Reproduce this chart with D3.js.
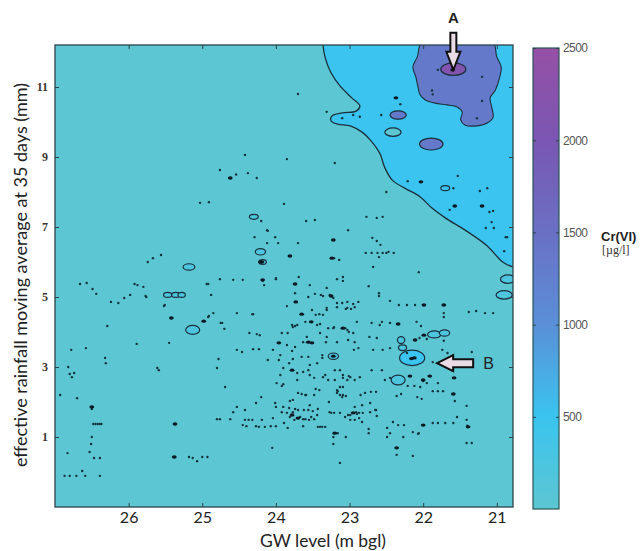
<!DOCTYPE html>
<head>
  <meta charset="utf-8">
  <script src="https://d3js.org/d3.v7.min.js"></script>
  <style>
    body { margin:0; background:#fff; }
  </style>
</head>
<body>
<script>
// ---- tick values ----
var gwTicks = [26, 25, 24, 23, 22, 21];
var rainTicks = [1, 3, 5, 7, 9, 11];
var crTicks = [500, 1000, 1500, 2000, 2500];

// colour bar of Cr(VI) [ug/l]
var cmapValues = [0, 500, 1000, 1500, 2000, 2500];
var cmapColors = ["#5cc6d2", "#3ac4ef", "#5a8fd8", "#6a70c4", "#7a56b2", "#9650a6"];
// value used to fill each contour band (last one: small rings inside the teal band)
var bandValues = [0, 500, 1350, 2150, 220];

// contour line between the teal and cyan bands [gw level, rainfall]
var contour500 = [[23.36,12.40],[23.36,12.20],[23.33,11.83],[23.25,11.40],[23.13,11.03],[22.97,10.69],
  [22.86,10.46],[22.91,10.31],[23.10,10.26],[23.24,10.17],[23.25,10.03],[23.16,9.94],[22.99,9.89],
  [22.83,9.71],[22.72,9.49],[22.59,9.11],[22.52,8.69],[22.42,8.34],[22.25,8.11],[22.04,7.86],
  [21.88,7.54],[21.70,7.26],[21.43,6.91],[21.13,6.46],[20.92,6.00],[20.78,5.86],[20.65,5.83]];

// blob around point A
var contourA = [[22.00,12.35],[22.08,11.86],[22.14,11.57],[22.10,11.29],[22.07,11.00],[22.04,10.77],
  [21.97,10.63],[21.84,10.54],[21.68,10.49],[21.54,10.43],[21.47,10.29],[21.49,10.06],[21.43,9.91],
  [21.27,9.89],[21.13,9.97],[21.05,10.14],[21.07,10.43],[21.09,10.69],[21.02,10.91],[20.96,11.29],
  [20.94,11.57],[21.00,11.86],[21.07,12.35]];

// small closed contours: [gw, rain, half width (m), half height (mm), band]
var rings = [
  [21.59,11.51,0.17,0.18,3],[22.34,10.20,0.11,0.12,2],[22.41,9.71,0.11,0.12,0],[21.89,9.37,0.16,0.17,2],
  [21.70,8.11,0.06,0.07,1],[24.30,7.29,0.06,0.07,4],[24.21,6.29,0.07,0.09,4],[25.18,5.86,0.08,0.09,4],
  [25.47,5.06,0.055,0.07,4],[25.36,5.06,0.055,0.07,4],[25.28,5.06,0.05,0.07,4],[25.13,4.06,0.095,0.13,4],
  [22.15,3.26,0.17,0.22,1],[22.34,2.63,0.095,0.14,4],[21.85,3.93,0.09,0.10,4],[21.71,3.97,0.07,0.09,4],
  [22.30,3.77,0.05,0.10,4],[22.28,3.55,0.055,0.08,4],[23.22,3.31,0.07,0.09,4],[20.85,5.51,0.10,0.12,4],
  [20.90,5.06,0.11,0.12,4],[24.18,6.00,0.05,0.07,4]];

// sample points
var smallDots = [
  [23.70,10.80],[24.42,9.06],[23.85,8.94],[24.76,8.63],[24.62,8.40],[24.54,8.50],[24.38,8.54],[24.26,8.40],
  [25.03,7.69],[24.91,7.71],[23.89,7.66],[24.20,7.17],[23.59,7.17],[23.47,7.20],[24.12,6.91],[24.29,6.71],
  [24.01,6.71],[24.12,6.54],[23.97,6.54],[23.70,6.54],[25.74,6.00],[25.67,6.11],[25.56,6.20],[24.11,6.89],
  [23.20,8.83],[23.31,10.29],[23.10,10.11],[22.95,10.20],[22.86,10.15],[22.57,10.20],[22.31,10.51],
  [23.02,6.91],[23.14,6.06],[23.17,5.51],[23.21,6.11],
  [22.50,8.00],[22.77,7.29],[22.63,7.26],[22.55,7.29],[22.69,6.69],[22.63,6.60],[22.58,6.49],[22.78,6.26],
  [22.70,6.26],[22.62,6.26],[22.55,6.26],[22.50,6.26],[22.47,6.29],[22.40,6.26],[22.60,6.14],[22.68,5.86],
  [22.06,5.71],
  [22.21,8.31],[21.59,8.11],[21.53,8.46],[21.23,8.03],[21.13,8.11],[21.64,7.49],[21.10,7.43],[21.05,7.46],
  [21.07,7.14],[21.15,6.97],[21.04,6.97],[20.88,6.71],[20.86,6.71],[20.90,6.31],[21.80,11.49],[21.20,11.29],
  [21.88,10.90],[21.87,10.79],[21.20,10.60],[21.27,10.11],
  [26.66,5.37],[26.57,5.40],[26.49,5.23],[26.44,5.09],[26.24,4.86],[26.14,4.83],[26.06,4.97],[25.98,5.06],
  [25.92,5.37],[25.88,5.34],[25.80,5.29],[25.77,5.03],[25.51,4.77],[26.29,4.17],[25.45,3.69],[24.94,5.37],
  [24.76,5.51],[24.58,5.49],[24.45,5.49],[24.00,5.51],[24.91,4.46],[24.85,4.54],[24.75,4.26],[24.78,3.23],
  [24.80,2.97],[24.69,2.43],[24.53,4.54],[24.53,3.49],[24.46,3.43],[24.32,4.51],[24.36,3.97],[24.26,3.94],
  [24.31,3.51],[24.23,3.51],[24.11,3.20],[24.20,2.14],[24.53,1.86],[24.58,1.71],[24.42,1.77],[24.80,1.51],
  [24.76,1.51],[24.62,1.51],[24.45,1.34],[24.40,1.31],[24.27,1.31],[24.23,1.29],[24.15,1.29],[24.07,1.31],
  [24.00,1.31],[24.05,0.69],[25.18,0.43],[25.13,0.40],[25.07,0.31],[25.00,0.43],[24.93,0.43],[25.61,2.97],
  [25.59,2.91],[26.93,2.20],[26.82,3.00],[26.80,2.80],[26.77,2.71],[26.74,2.83],[26.78,3.49],[26.70,2.11],
  [26.48,1.37],[26.45,1.37],[26.42,1.37],[26.39,1.37],[26.37,1.37],[26.50,1.00],[26.51,0.80],[26.53,0.57],
  [26.47,0.40],[26.39,0.40],[26.83,0.54],[26.87,-0.11],[26.80,-0.11],[26.71,-0.11],[26.63,0.03],[26.59,-0.11],
  [26.39,-0.11],[26.32,3.26],[26.31,3.11],[25.89,3.66],[24.70,4.09],[26.58,3.54],[24.92,5.37],[24.88,5.06],
  [24.16,5.34],[25.76,5.00],[25.52,4.74],[24.92,4.43],[24.73,4.26],[24.31,4.51],[24.22,3.91],[26.50,1.80],
  [24.00,5.54],[23.69,5.57],[23.54,5.34],[23.31,5.26],[23.47,5.09],[23.39,5.06],[23.22,4.97],[23.74,5.11],
  [23.56,5.00],[23.85,4.74],[23.51,4.63],[23.46,4.49],[23.41,4.51],[23.77,4.14],[23.71,4.20],[23.60,4.29],
  [23.40,4.23],[24.18,5.46],[23.27,5.06],[23.09,5.46],[23.36,5.03],[23.17,4.83],[23.10,4.83],[23.03,4.86],
  [22.95,4.80],[22.88,4.86],[23.31,4.63],[23.17,4.71],[23.03,4.69],[22.98,4.66],[22.93,4.71],[23.44,4.20],
  [23.74,4.17],[23.78,4.20],[23.29,4.11],[23.21,4.14],[23.03,4.06],[22.95,3.97],[23.92,3.97],[23.84,3.97],
  [23.58,3.86],[23.40,3.97],[23.85,3.63],[23.78,3.46],[23.74,3.57],[23.63,3.71],[23.17,3.71],[23.32,3.71],
  [23.02,3.77],[22.93,3.71],[24.04,3.49],[23.94,3.34],[22.94,3.49],[23.96,3.20],[23.82,3.11],[23.77,3.23],
  [23.65,3.29],[23.56,3.29],[23.54,3.06],[23.44,3.11],[23.37,3.34],[23.90,2.97],[23.71,2.83],[23.63,2.86],
  [23.56,2.91],[23.94,2.77],[23.71,2.63],[23.54,2.77],[23.48,2.69],[23.33,2.77],[23.29,2.63],[23.20,2.63],
  [23.09,2.77],[22.99,2.71],[23.03,2.63],[23.13,2.43],[23.09,2.43],[23.41,2.34],[23.17,2.26],[23.99,2.54],
  [23.90,2.51],[24.27,1.97],[23.77,2.06],[23.60,2.20],[23.48,2.20],[23.28,2.00],[24.01,1.97],[23.90,1.86],
  [23.82,1.83],[23.85,1.69],[23.77,1.71],[23.70,1.77],[23.56,1.77],[24.42,1.49],[24.32,1.49],[24.19,1.49],
  [24.04,1.54],[23.81,1.57],[23.75,1.49],[23.67,1.57],[23.60,1.51],[23.52,1.57],[23.44,1.63],[23.40,1.29],
  [23.33,1.29],[23.27,1.71],[23.21,1.69],[23.13,1.69],[23.06,1.57],[22.99,1.63],[22.91,1.71],[24.37,1.49],
  [23.92,2.46],[24.00,1.86],[23.81,2.03],[23.92,1.71],[23.89,1.40],[23.84,1.26],[23.70,2.26],[23.65,2.23],
  [23.74,1.80],[23.62,1.77],[23.50,1.74],[23.43,1.80],[23.63,1.51],[23.55,1.49],[23.48,1.51],[23.59,2.20],
  [23.54,1.91],[23.46,2.37],[23.43,1.29],[23.37,1.29],[23.63,1.31],[23.25,1.69],[23.22,1.00],[23.22,0.80],
  [23.16,1.11],[23.05,1.00],[23.13,2.20],[23.10,2.14],[23.05,2.17],[23.16,2.31],[23.02,1.63],[22.87,1.69],
  [22.99,1.49],[22.93,1.49],[22.83,1.43],[22.93,1.86],[22.83,1.91],[22.72,1.71],[22.64,1.77],[22.63,1.60],
  [22.74,1.23],[22.49,1.26],[22.45,1.11],[22.49,1.00],[22.41,1.43],[22.34,1.34],[22.26,1.34],[22.27,1.00],
  [22.36,0.49],[22.14,0.46],[22.07,1.09],[21.87,1.40],[21.80,1.40],[21.70,1.40],[21.59,1.40],[22.36,2.17],
  [22.21,2.46],[22.12,2.46],[22.00,2.60],[22.02,2.09],[21.87,2.31],[21.80,2.31],[21.73,2.31],[23.13,0.26],
  [23.09,5.57],[22.74,5.31],[22.60,5.11],[22.60,5.03],[22.45,4.89],[22.33,4.77],[22.22,4.77],[22.11,4.77],
  [21.72,4.54],[21.72,4.43],[21.38,4.57],[21.28,4.60],[21.16,4.54],[21.05,4.54],[23.05,4.66],[22.90,4.29],
  [22.70,4.26],[22.56,4.29],[22.59,4.20],[22.45,4.26],[22.09,4.29],[22.03,4.17],[22.73,3.86],[22.63,3.83],
  [22.88,3.54],[22.68,3.49],[22.55,3.49],[22.45,3.54],[22.70,2.91],[22.56,2.91],[22.52,2.63],[22.45,2.69],
  [22.93,2.63],[22.86,2.71],[21.80,2.54],[21.95,2.54],[22.04,2.43],[21.57,2.03],[21.41,1.89],[21.54,1.57],
  [21.41,1.49],[21.41,0.83],[21.34,0.83],[22.14,1.14],[22.06,1.11],[22.74,1.11],[22.90,1.66],[22.82,1.69],
  [22.87,1.54],[22.65,1.77],[22.72,1.97],[22.30,2.23],[22.08,2.14],[23.17,2.34],[23.09,2.20],[22.85,2.20],
  [22.79,2.26],[22.71,2.29],[22.64,2.29],[23.36,4.49],[23.31,4.69],[23.06,4.11],[23.01,4.00],[23.31,3.86],
  [23.22,4.11],[23.37,3.26],[23.20,2.91],[23.13,2.91],[23.09,2.69],[23.01,2.74],[23.36,2.71],[22.22,3.40],
  [21.87,3.14],[21.95,3.80],[22.05,3.83],[21.74,3.49],[21.67,3.40],[21.34,3.43],[21.72,3.75],[21.40,1.32]];

// larger / darker sample marks
var darkDots = [
  [23.81,6.17],[25.42,4.40],[24.98,4.31],[24.18,5.49],[23.74,5.37],[23.73,4.86],[23.65,4.51],[23.52,4.29],
  [23.09,4.11],[23.56,3.71],[23.51,3.69],[23.96,3.69],[23.78,2.91],[23.25,5.03],[23.22,6.63],[23.24,6.11],
  [24.19,6.00],[25.37,1.37],[26.50,1.86],[25.38,0.43],[23.78,1.63],[23.70,1.54],[23.20,1.11],[22.95,1.69],
  [22.36,0.69],[22.00,1.34],[21.39,1.29],[21.59,2.23],[21.58,2.69],[21.91,2.74],[22.34,4.23],[21.99,4.77],
  [21.72,4.77],[21.99,3.91],[22.11,3.77],[22.18,2.74],[22.00,2.63],[22.37,10.69],[22.03,8.29],[21.57,7.60],
  [21.20,7.60],[21.60,11.49],[22.12,3.26],[22.16,3.24],[23.22,3.31],[24.62,8.40],[24.21,6.00]];

var W = 642, H = 551;
var svg = d3.select("body").append("svg").attr("width", W).attr("height", H);

var x = d3.scaleLinear().domain([27, 20.78]).range([55, 513]);
var y = d3.scaleLinear().domain([-1, 12.2]).range([507, 45]);
var color = d3.scaleLinear().domain(cmapValues).range(cmapColors);

svg.append("clipPath").attr("id", "clip").append("rect")
  .attr("x", x(27)).attr("y", y(12.2))
  .attr("width", x(20.78) - x(27)).attr("height", y(-1) - y(12.2));

var plot = svg.append("g").attr("clip-path", "url(#clip)");
plot.append("rect")
  .attr("x", x(27)).attr("y", y(12.2))
  .attr("width", x(20.78) - x(27)).attr("height", y(-1) - y(12.2))
  .attr("fill", color(bandValues[0]));

var lineStroke = "#1b2f3c";
var openLine = d3.line().x(function(d){ return x(d[0]); }).y(function(d){ return y(d[1]); }).curve(d3.curveCatmullRom);
var closedLine = d3.line().x(function(d){ return x(d[0]); }).y(function(d){ return y(d[1]); }).curve(d3.curveCatmullRomClosed);

var edge = openLine(contour500);
plot.append("path")
  .attr("d", edge + "L" + x(20.5) + "," + y(5.8) + "L" + x(20.5) + "," + y(12.6) + "L" + x(23.36) + "," + y(12.6) + "Z")
  .attr("fill", color(bandValues[1]));
plot.append("path").attr("d", edge).attr("fill", "none").attr("stroke", lineStroke).attr("stroke-width", 1.3);

plot.append("path").attr("d", closedLine(contourA))
  .attr("fill", color(bandValues[2])).attr("stroke", lineStroke).attr("stroke-width", 1.1);

plot.selectAll("ellipse.ring").data(rings).enter().append("ellipse")
  .attr("class", "ring")
  .attr("cx", function(d){ return x(d[0]); })
  .attr("cy", function(d){ return y(d[1]); })
  .attr("rx", function(d){ return x(d[0] - d[2]) - x(d[0]); })
  .attr("ry", function(d){ return y(d[1] - d[3]) - y(d[1]); })
  .attr("fill", function(d){ return color(bandValues[d[4]]); })
  .attr("stroke", lineStroke).attr("stroke-width", 1.2);

plot.selectAll("circle.dot").data(smallDots).enter().append("circle")
  .attr("class", "dot")
  .attr("cx", function(d){ return x(d[0]); })
  .attr("cy", function(d){ return y(d[1]); })
  .attr("r", 1.2)
  .attr("fill", "#15343d");

plot.selectAll("ellipse.dark").data(darkDots).enter().append("ellipse")
  .attr("class", "dark")
  .attr("cx", function(d){ return x(d[0]); })
  .attr("cy", function(d){ return y(d[1]); })
  .attr("rx", 2.4).attr("ry", 1.7)
  .attr("fill", "#0a1a22");

// frame and ticks
var tickCol = "#2c4348";
function styleAxis(g) {
  g.select(".domain").remove();
  g.selectAll(".tick line").attr("stroke", tickCol).attr("stroke-width", 1);
}
svg.append("g").attr("transform", "translate(0," + y(-1) + ")")
  .call(d3.axisBottom(x).tickValues(gwTicks).tickSize(-4).tickPadding(5).tickFormat(d3.format("d")))
  .call(styleAxis)
  .selectAll("text").attr("font-family", "Lato, 'Open Sans', sans-serif").attr("font-size", 16).attr("fill", "#222");
svg.append("g").attr("transform", "translate(0," + y(12.2) + ")")
  .call(d3.axisTop(x).tickValues(gwTicks).tickSize(-4).tickFormat(""))
  .call(styleAxis);
svg.append("g").attr("transform", "translate(" + x(27) + ",0)")
  .call(d3.axisLeft(y).tickValues(rainTicks).tickSize(-4).tickPadding(7).tickFormat(d3.format("d")))
  .call(styleAxis)
  .selectAll("text").attr("font-family", "'Liberation Serif', serif").attr("font-weight", "bold")
  .attr("font-size", 12).attr("fill", "#3d3530");
svg.append("g").attr("transform", "translate(" + x(20.78) + ",0)")
  .call(d3.axisRight(y).tickValues(rainTicks).tickSize(-4).tickFormat(""))
  .call(styleAxis);

svg.append("rect")
  .attr("x", x(27)).attr("y", y(12.2))
  .attr("width", x(20.78) - x(27)).attr("height", y(-1) - y(12.2))
  .attr("fill", "none").attr("stroke", tickCol).attr("stroke-width", 1.3);

// axis titles
svg.append("text")
  .attr("x", 323).attr("y", 547)
  .attr("text-anchor", "middle")
  .attr("font-family", "Lato, 'Open Sans', sans-serif").attr("font-size", 17.5).attr("fill", "#222")
  .text("GW level (m bgl)");
svg.append("text")
  .attr("transform", "translate(27,275) rotate(-90)")
  .attr("text-anchor", "middle")
  .attr("font-family", "Lato, 'Open Sans', sans-serif").attr("font-size", 18).attr("fill", "#222")
  .text("effective rainfall moving average at 35 days (mm)");

// colour bar
var cb = d3.scaleLinear().domain([0, 2500]).range([509, 48]);
var grad = svg.append("defs").append("linearGradient").attr("id", "cbar")
  .attr("x1", 0).attr("y1", 1).attr("x2", 0).attr("y2", 0);
grad.selectAll("stop").data(cmapValues).enter().append("stop")
  .attr("offset", function(d){ return d / 2500; })
  .attr("stop-color", function(d){ return color(d); });
svg.append("rect")
  .attr("x", 533).attr("y", cb(2500)).attr("width", 26).attr("height", cb(0) - cb(2500))
  .attr("fill", "url(#cbar)").attr("stroke", "#2b5458").attr("stroke-width", 1.2);
svg.append("g").attr("transform", "translate(559,0)")
  .call(d3.axisRight(cb).tickValues(crTicks).tickSize(-3).tickPadding(4).tickFormat(d3.format("d")))
  .call(styleAxis)
  .selectAll("text").attr("font-family", "'Liberation Sans Narrow', 'Liberation Sans', sans-serif")
  .attr("font-size", 12).attr("letter-spacing", -0.6).attr("fill", "#555");
svg.append("g").attr("transform", "translate(533,0)")
  .call(d3.axisLeft(cb).tickValues(crTicks).tickSize(-3).tickFormat(""))
  .call(styleAxis);

svg.append("text").attr("x", 601).attr("y", 241)
  .attr("font-family", "'Liberation Sans', sans-serif").attr("font-weight", "bold")
  .attr("font-size", 13).attr("fill", "#222").text("Cr(VI)");
svg.append("text").attr("x", 602).attr("y", 254)
  .attr("font-family", "'Liberation Serif', serif").attr("font-size", 12)
  .attr("fill", "#333").text("[µg/l]");

// annotations A and B
var arrowFill = "#eadbe5";
var ax = x(21.59), ay = y(11.49);
svg.append("path")
  .attr("d", "M" + (ax - 3) + "," + (ay - 37) + "h6v19h4l-7,18l-7,-18h4z")
  .attr("fill", arrowFill).attr("stroke", "#111").attr("stroke-width", 2);
svg.append("text").attr("x", ax).attr("y", 23).attr("text-anchor", "middle")
  .attr("font-family", "'Liberation Sans', sans-serif").attr("font-weight", "bold")
  .attr("font-size", 15).attr("fill", "#222").text("A");

var bx = x(21.81), by = y(3.11);
svg.append("path")
  .attr("d", "M" + bx + "," + by + "l16,-8v4h20v8h-20v4z")
  .attr("fill", arrowFill).attr("stroke", "#111").attr("stroke-width", 2);
svg.append("text").attr("x", bx + 46).attr("y", by + 6)
  .attr("font-family", "'Liberation Sans', sans-serif")
  .attr("font-size", 16).attr("fill", "#222").text("B");
</script>
</body>
